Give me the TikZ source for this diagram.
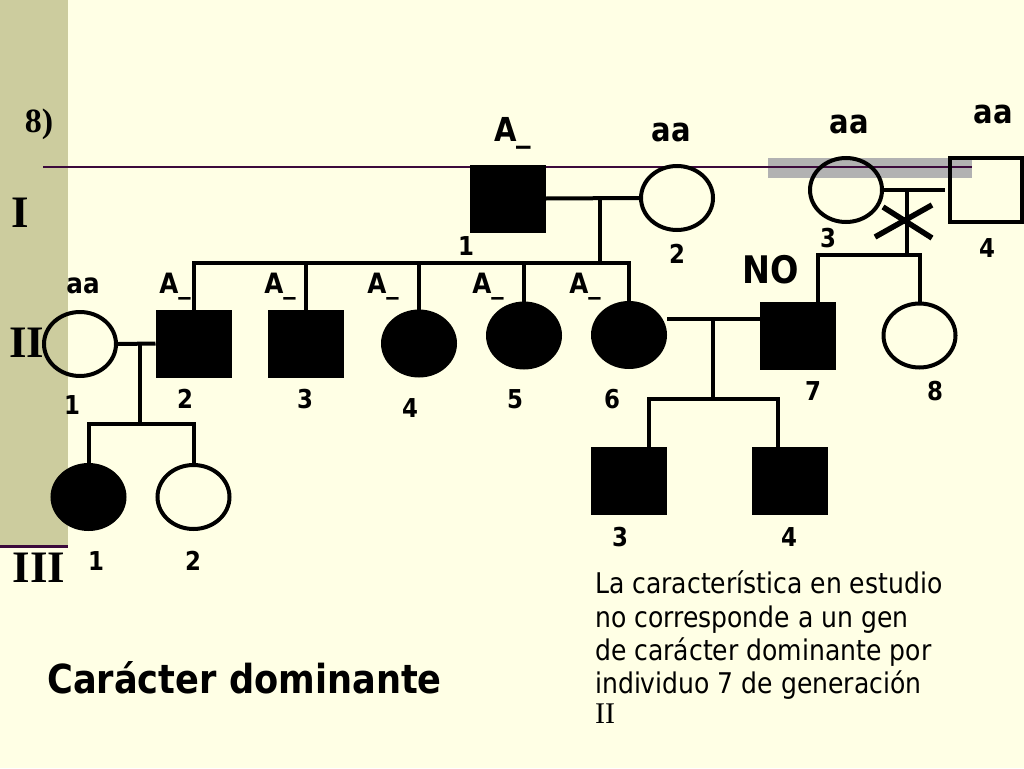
\documentclass[tikz,border=0pt]{standalone}
\usepackage{fontspec}
\newfontfamily\tahoma{DejaVu Sans}[FakeStretch=0.88]
\newfontfamily\romanfont{Liberation Serif}
\usetikzlibrary{shapes.geometric}

\definecolor{cream}{RGB}{255,255,229}
\definecolor{bandolive}{RGB}{204,204,158}
\definecolor{bandgray}{RGB}{178,178,178}
\definecolor{rulepurple}{RGB}{60,10,60}

\begin{document}
\begin{tikzpicture}[
    x=1pt, y=-1pt,
    male/.style={
        draw,
        rectangle,
        line width=4pt,
        minimum width=72pt,
        minimum height=64pt,
        inner sep=0pt
    },
    female/.style={
        draw,
        ellipse,
        line width=4pt,
        minimum width=72pt,
        minimum height=64pt,
        inner sep=0pt
    },
    aff/.style={fill=black},
    link/.style={line width=4pt},
    gtop/.style={font=\tahoma\bfseries\fontsize{33}{38}\selectfont, anchor=base, inner sep=0pt},
    gmid/.style={font=\tahoma\bfseries\fontsize{28}{33}\selectfont, anchor=base, inner sep=0pt},
    num/.style={font=\tahoma\bfseries\fontsize{26}{30}\selectfont, anchor=base, inner sep=0pt},
    gen/.style={font=\romanfont\bfseries\fontsize{45}{50}\selectfont, anchor=base, inner sep=0pt},
    note/.style={font=\tahoma\fontsize{28.5}{34}\selectfont, anchor=base west, inner sep=0pt}
]
\useasboundingbox (0,0) rectangle (1024,768);

% background
\fill[cream] (0,0) rectangle (1024,768);
\fill[bandolive] (0,0) rectangle (68,545);
\draw[rulepurple, line width=3pt] (0,546) -- (68,546);
\fill[bandgray] (768,158) rectangle (972,178);
\draw[rulepurple, line width=2pt] (43,167) -- (972,167);

% generation labels
\node[font=\romanfont\bfseries\fontsize{34}{40}\selectfont, anchor=base, inner sep=0pt] (num8) at (39,132) {8)};
\node[gen] (genI) at (20,227) {I};
\node[gen] (genII) at (27,357) {II};
\node[gen] (genIII) at (39,582) {III};

% generation I
\node[male, aff] (I1) at (508,198.5) {};
\node[female] (I2) at (677,198) {};
\node[female] (I3) at (846,190) {};
\node[male] (I4) at (986,190) {};

% generation II
\node[female] (II1) at (80,344) {};
\node[male, aff] (II2) at (193.5,343.5) {};
\node[male, aff] (II3) at (306,343.5) {};
\node[female, aff] (II4) at (419,343.5) {};
\node[female, aff] (II5) at (524,335.5) {};
\node[female, aff] (II6) at (629,335) {};
\node[male, aff] (II7) at (798,335.5) {};
\node[female] (II8) at (919.5,335.5) {};

% generation III
\node[female, aff] (III1) at (88.5,497) {};
\node[female] (III2) at (193.5,497) {};
\node[male, aff] (III3) at (629,480.5) {};
\node[male, aff] (III4) at (790,480.5) {};

% junctions
\coordinate (m1) at (600,198.5);
\coordinate (s1) at (600,263);
\coordinate (m2) at (140,343.5);
\coordinate (s2) at (140,424);
\coordinate (m3) at (907,190);
\coordinate (s3) at (907,255);
\coordinate (m4) at (713,319);
\coordinate (s4) at (713,399);
\coordinate (d7) at (818,255);
\coordinate (d3) at (649,399);
\coordinate (d4) at (778,399);

% matings and sibships
\draw[link] (I1.east) -- (I2.west);
\draw[link] (m1) -- (s1);
\draw[link] (II2.north) |- (s1 -| II6.north) -- (II6.north);
\draw[link] (II3.north) -- (II3.north |- s1);
\draw[link] (II4.north) -- (II4.north |- s1);
\draw[link] (II5.north) -- (II5.north |- s1);

\draw[link] (II1.east) -- (II2.west);
\draw[link] (m2) -- (s2);
\draw[link] (III1.north) |- (s2 -| III2.north) -- (III2.north);

\draw[link, shorten >=3pt] (I3.east) -- (I4.west);
\draw[link] (m3) -- (s3);
\draw[link] (II7.north -| d7) |- (s3 -| II8.north) -- (II8.north);
\draw[line width=5.5pt] (875,237) -- (932,205) (883,207) -- (932,238);

\draw[link] (II6.east |- m4) -- (II7.west |- m4);
\draw[link] (m4) -- (s4);
\draw[link] (III3.north -| d3) |- (d4) -- (III4.north -| d4);

% genotypes
\node[gtop] (gI1) at (513,141) {A\_};
\node[gtop] (gI2) at (671,141) {aa};
\node[gtop] (gI3) at (849,133) {aa};
\node[gtop] (gI4) at (993,123) {aa};
\node[gmid] (gII1) at (83,293) {aa};
\node[gmid] (gII2) at (175,293) {A\_};
\node[gmid] (gII3) at (280,293) {A\_};
\node[gmid] (gII4) at (383,293) {A\_};
\node[gmid] (gII5) at (488,293) {A\_};
\node[gmid] (gII6) at (585,293) {A\_};
\node[font=\tahoma\bfseries\fontsize{38}{44}\selectfont, anchor=base, inner sep=0pt] (noII7) at (771,283) {NO};

% numbers
\node[num] (nI1) at (466,255) {1};
\node[num] (nI2) at (677,263) {2};
\node[num] (nI3) at (828,247) {3};
\node[num] (nI4) at (987,257) {4};
\node[num] (nII1) at (72,414) {1};
\node[num] (nII2) at (185,408) {2};
\node[num] (nII3) at (305,408) {3};
\node[num] (nII4) at (410,417) {4};
\node[num] (nII5) at (515,408) {5};
\node[num] (nII6) at (612,408) {6};
\node[num] (nII7) at (813,400) {7};
\node[num] (nII8) at (935,400) {8};
\node[num] (nIII1) at (96,570) {1};
\node[num] (nIII2) at (193,570) {2};
\node[num] (nIII3) at (620,546) {3};
\node[num] (nIII4) at (789,546) {4};

% texts
\node[font=\tahoma\bfseries\fontsize{40}{48}\selectfont, anchor=base west, inner sep=0pt] (title) at (47,693) {Carácter dominante};
\node[note] (par1) at (595,593) {La característica en estudio};
\node[note] (par2) at (595,627) {no corresponde a un gen};
\node[note] (par3) at (595,660) {de carácter dominante por};
\node[note] (par4) at (595,693) {individuo 7 de generación};
\node[font=\romanfont\fontsize{30}{34}\selectfont, anchor=base west, inner sep=0pt] (par5) at (595,723) {II};
\end{tikzpicture}
\end{document}
